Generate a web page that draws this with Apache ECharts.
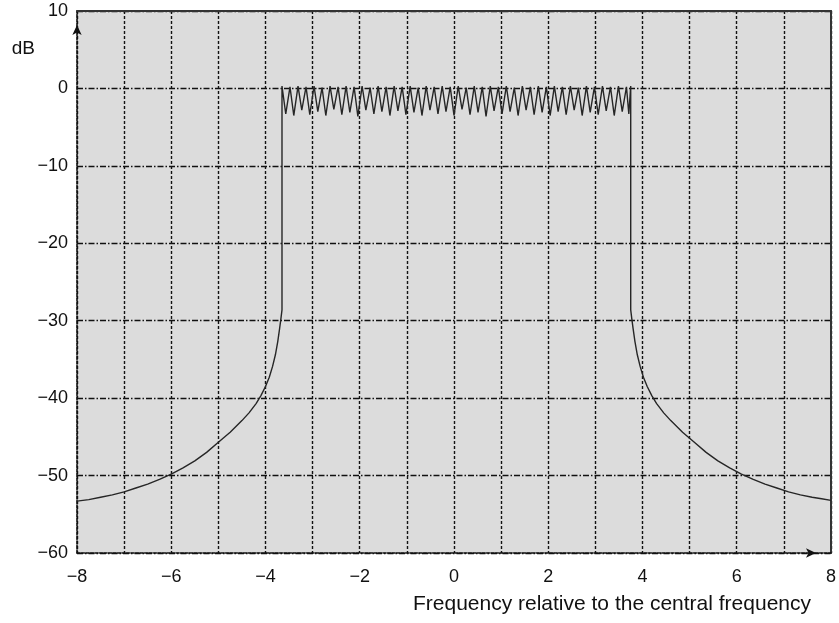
<!DOCTYPE html>
<html>
<head>
<meta charset="utf-8">
<script src="https://cdn.jsdelivr.net/npm/echarts@6/dist/echarts.min.js"></script>
<style>
  html, body { margin: 0; padding: 0; background: #ffffff; }
  #chart { width: 839px; height: 623px; }
</style>
</head>
<body>
<div id="chart"></div>
<script>
// Spectrum of the transmitted pulse, level in dB against frequency offset.
// Lower skirt below the band edge: [frequency, dB]
const leftSkirt = [
  [-8, -53.3], [-7.75, -53.1], [-7.5, -52.8], [-7.25, -52.5], [-7, -52.1],
  [-6.75, -51.6], [-6.5, -51.1], [-6.25, -50.5], [-6, -49.8], [-5.75, -49.0],
  [-5.5, -48.1], [-5.25, -47.0], [-5, -45.7], [-4.75, -44.4], [-4.5, -42.9],
  [-4.35, -41.9], [-4.2, -40.7], [-4.1, -39.7], [-4, -38.5], [-3.92, -37.3],
  [-3.85, -35.9], [-3.79, -34.4], [-3.74, -32.7], [-3.7, -31.0], [-3.67, -29.6],
  [-3.65, -28.6]
];

// Passband with its ripple: [frequency, dB]
const passband = [
  [-3.65, 0.3], [-3.57, -3.3], [-3.48, 0.2], [-3.40, -3.5], [-3.31, 0.3],
  [-3.23, -2.8], [-3.14, 0.2], [-3.06, -3.4], [-2.97, 0.3], [-2.89, -3.0],
  [-2.80, 0.1], [-2.72, -3.5], [-2.63, 0.3], [-2.55, -2.7], [-2.46, 0.2],
  [-2.38, -3.4], [-2.29, 0.3], [-2.21, -3.1], [-2.12, 0.2], [-2.04, -3.6],
  [-1.95, 0.3], [-1.87, -2.8], [-1.78, 0.1], [-1.70, -3.3], [-1.61, 0.3],
  [-1.53, -3.0], [-1.44, 0.2], [-1.36, -3.5], [-1.27, 0.3], [-1.19, -2.9],
  [-1.10, 0.2], [-1.02, -3.4], [-0.93, 0.3], [-0.85, -3.1], [-0.76, 0.1],
  [-0.68, -3.5], [-0.59, 0.3], [-0.51, -2.8], [-0.42, 0.2], [-0.34, -3.3],
  [-0.25, 0.3], [-0.17, -3.0], [-0.08, 0.2], [0.00, -3.5], [0.09, 0.3],
  [0.17, -2.7], [0.26, 0.1], [0.34, -3.4], [0.43, 0.3], [0.51, -3.1],
  [0.60, 0.2], [0.68, -3.6], [0.77, 0.3], [0.85, -2.9], [0.94, 0.2],
  [1.02, -3.3], [1.11, 0.3], [1.19, -3.0], [1.28, 0.1], [1.36, -3.5],
  [1.45, 0.3], [1.53, -2.8], [1.62, 0.2], [1.70, -3.4], [1.79, 0.3],
  [1.87, -3.1], [1.96, 0.2], [2.04, -3.5], [2.13, 0.3], [2.21, -3.0],
  [2.30, 0.2], [2.38, -3.4], [2.47, 0.3], [2.55, -2.8], [2.64, 0.1],
  [2.72, -3.5], [2.81, 0.3], [2.89, -3.1], [2.98, 0.2], [3.06, -3.4],
  [3.15, 0.3], [3.23, -2.9], [3.32, 0.2], [3.40, -3.5], [3.49, 0.3],
  [3.57, -3.0], [3.66, 0.2], [3.71, -3.3], [3.75, 0.3]
];

// Upper skirt above the band edge: [frequency, dB]
const rightSkirt = [
  [3.75, -28.6], [3.77, -29.6], [3.8, -31.0], [3.84, -32.7], [3.89, -34.4],
  [3.95, -35.9], [4.02, -37.3], [4.1, -38.5], [4.2, -39.7], [4.3, -40.7],
  [4.45, -41.9], [4.6, -42.9], [4.85, -44.4], [5.1, -45.7], [5.35, -47.0],
  [5.6, -48.1], [5.85, -49.0], [6.1, -49.8], [6.35, -50.5], [6.6, -51.1],
  [6.85, -51.6], [7.1, -52.1], [7.35, -52.5], [7.6, -52.8], [7.8, -53.0],
  [8, -53.2]
];

// Axis ranges and labelled ticks
const freqTicks = [-8, -6, -4, -2, 0, 2, 4, 6, 8];
const levelTicks = [10, 0, -10, -20, -30, -40, -50, -60];

const spectrum = leftSkirt.concat(passband, rightSkirt);
const fmt = v => (v < 0 ? '\u2212' + Math.abs(v) : String(v));
const FONT = '"Liberation Sans", Arial, sans-serif';

const chart = echarts.init(document.getElementById('chart'), null, { renderer: 'canvas' });

const gridLine = (dash) => ({
  show: true,
  lineStyle: { color: '#111', width: 1.4, type: dash }
});

chart.setOption({
  animation: false,
  backgroundColor: '#ffffff',
  grid: {
    left: 77, right: 2, top: 11, bottom: 70,
    show: true, backgroundColor: '#dcdcdc', borderWidth: 0
  },
  xAxis: [{
    type: 'value',
    min: freqTicks[0], max: freqTicks[freqTicks.length - 1], interval: 1,
    axisLine: {
      show: true, onZero: false,
      lineStyle: { color: '#111', width: 1.6, type: [3, 1.5] },
      symbol: ['none', 'arrow'], symbolSize: [7, 10], symbolOffset: [0, -15]
    },
    axisTick: { show: false },
    splitLine: gridLine([3, 2]),
    axisLabel: {
      margin: 15, color: '#111', fontFamily: FONT, fontSize: 18,
      formatter: v => (freqTicks.indexOf(v) >= 0 ? fmt(v) : '')
    },
    name: 'Frequency relative to the central frequency',
    nameLocation: 'end',
    nameGap: -20,
    nameTextStyle: {
      color: '#111', fontFamily: FONT, fontSize: 21,
      align: 'right', verticalAlign: 'top', padding: [41, 0, 0, 0]
    }
  }, {
    type: 'value', position: 'top',
    min: freqTicks[0], max: freqTicks[freqTicks.length - 1],
    axisLine: { show: true, onZero: false, lineStyle: { color: '#333', width: 2 } },
    axisTick: { show: false }, axisLabel: { show: false }, splitLine: { show: false }
  }],
  yAxis: [{
    type: 'value',
    min: levelTicks[levelTicks.length - 1], max: levelTicks[0], interval: 10,
    axisLine: {
      show: true, onZero: false,
      lineStyle: { color: '#111', width: 1.6, type: [3, 1.5] },
      symbol: ['none', 'arrow'], symbolSize: [7, 10], symbolOffset: [0, -14]
    },
    axisTick: { show: false },
    splitLine: gridLine([6, 2, 1.5, 2]),
    axisLabel: {
      margin: 9, color: '#111', fontFamily: FONT, fontSize: 18,
      formatter: v => fmt(v)
    },
    name: 'dB',
    nameLocation: 'end',
    nameGap: -38,
    nameTextStyle: {
      color: '#111', fontFamily: FONT, fontSize: 19,
      align: 'right', verticalAlign: 'middle', padding: [0, 42, 0, 0]
    }
  }, {
    type: 'value', position: 'right',
    min: levelTicks[levelTicks.length - 1], max: levelTicks[0],
    axisLine: { show: true, onZero: false, lineStyle: { color: '#333', width: 2 } },
    axisTick: { show: false }, axisLabel: { show: false }, splitLine: { show: false }
  }],
  series: [{
    type: 'line',
    data: spectrum,
    showSymbol: false,
    symbol: 'none',
    smooth: false,
    lineStyle: { color: '#262626', width: 1.4 },
    z: 5
  }]
});
</script>
</body>
</html>
